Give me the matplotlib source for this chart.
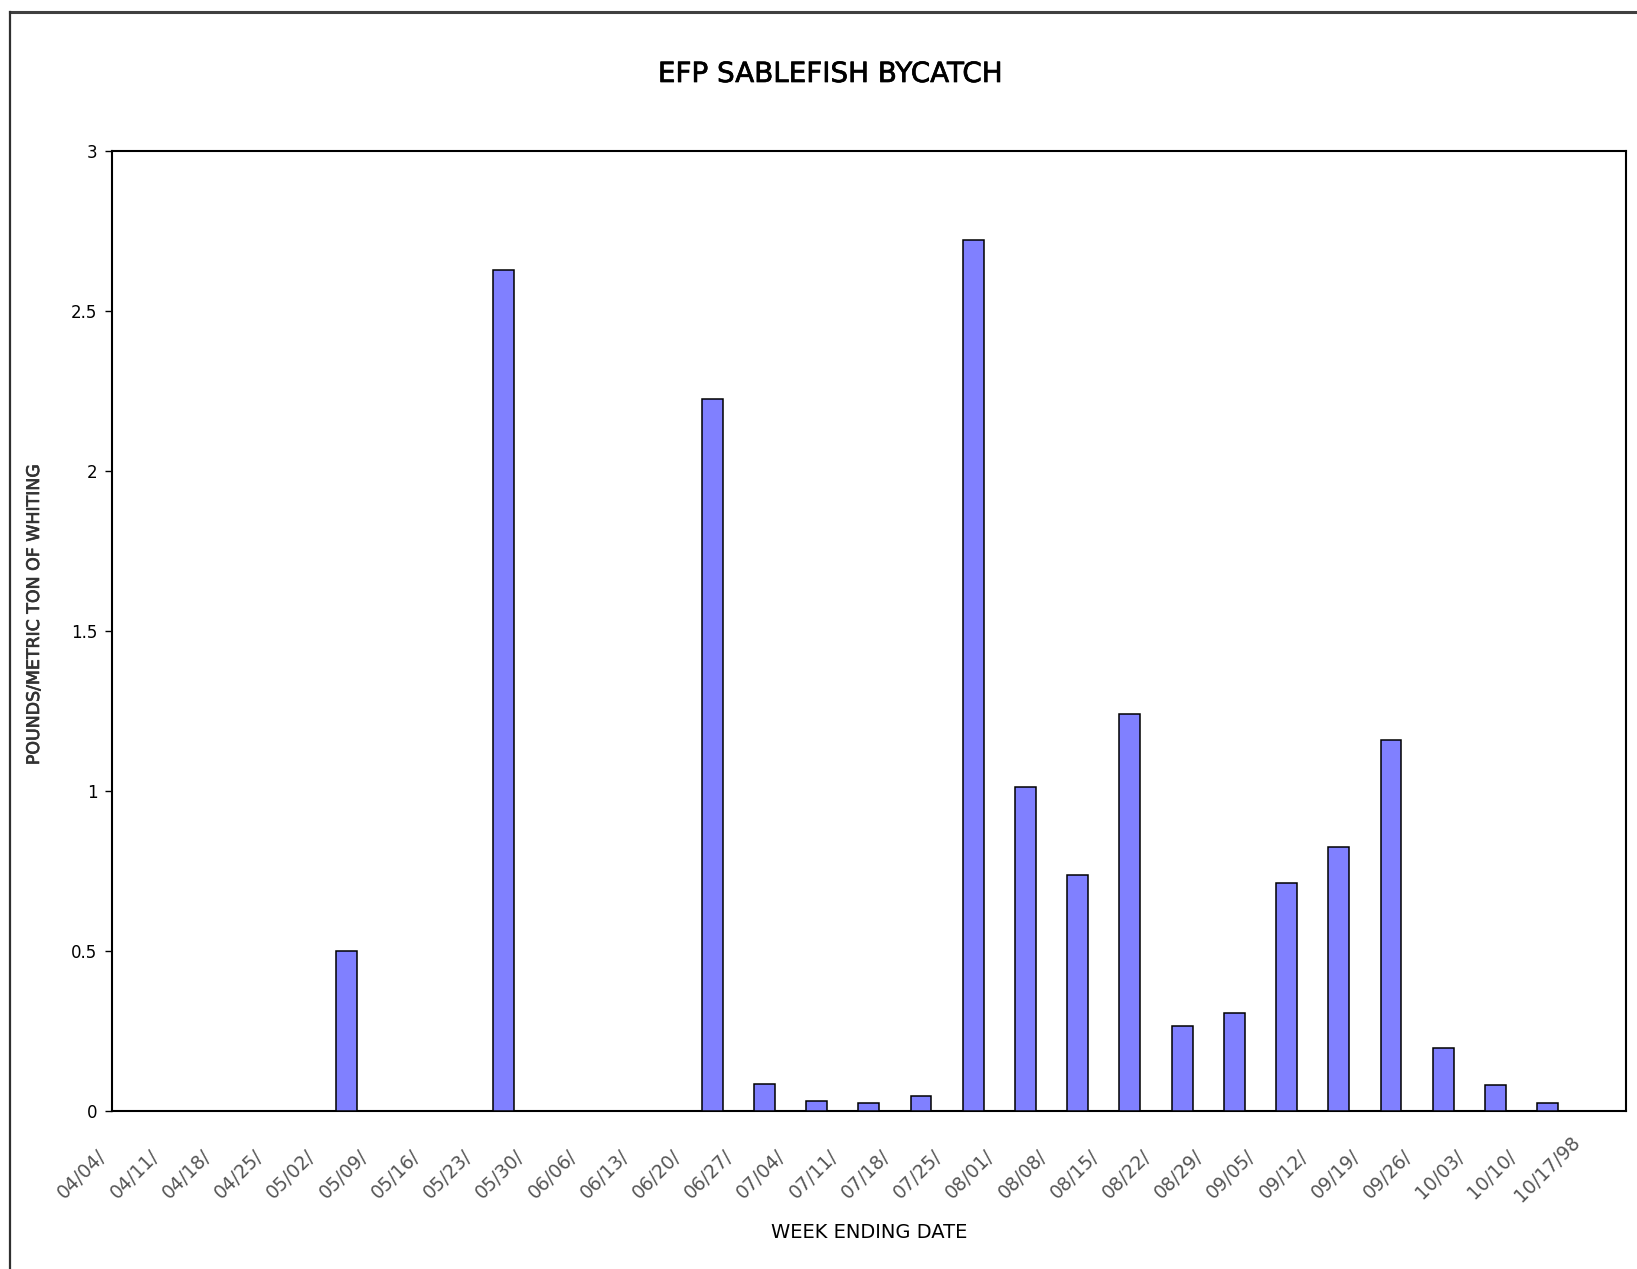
import matplotlib
matplotlib.use("Agg")
import matplotlib.pyplot as plt
from matplotlib.lines import Line2D
from matplotlib.transforms import ScaledTranslation
import matplotlib.patheffects as pe

# ---- data ----
week_labels = ["04/04/", "04/11/", "04/18/", "04/25/", "05/02/", "05/09/", "05/16/",
               "05/23/", "05/30/", "06/06/", "06/13/", "06/20/", "06/27/", "07/04/",
               "07/11/", "07/18/", "07/25/", "08/01/", "08/08/", "08/15/", "08/22/",
               "08/29/", "09/05/", "09/12/", "09/19/", "09/26/", "10/03/", "10/10/",
               "10/17/98"]
bycatch = [0, 0, 0, 0, 0.50, 0, 0,
           2.628, 0, 0, 0, 2.226, 0.083, 0.032,
           0.024, 0.048, 2.723, 1.012, 0.738, 1.242, 0.266,
           0.307, 0.712, 0.826, 1.159, 0.197, 0.082, 0.025,
           0]
yticks = [0, 0.5, 1, 1.5, 2, 2.5, 3]
ytick_labels = ["0", "0.5", "1", "1.5", "2", "2.5", "3"]

W, H = 1637, 1269
fig = plt.figure(figsize=(W / 100, H / 100), dpi=100)
plt.rcParams['font.family'] = ['DejaVu Sans']

# outer chart-area frame (top and left edges visible)
fig.add_artist(Line2D([10 / W, 1.0], [1 - 12 / H, 1 - 12 / H], color="#404040", lw=2.2))
fig.add_artist(Line2D([10 / W, 10 / W], [0, 1 - 12 / H], color="#303030", lw=1.6))

ax = fig.add_axes([111.5 / W, 1 - 1111 / H, (1626 - 111.5) / W, (1111 - 151) / H])
x = list(range(len(week_labels)))
ax.bar(x, bycatch, width=0.4, color="#8080FF", edgecolor="black", linewidth=1.1, zorder=3)

ax.set_xlim(-0.5, len(week_labels) - 0.5)
ax.set_ylim(0, 3)
ax.set_yticks(yticks)
ax.set_yticklabels(ytick_labels, fontsize=12)
ax.tick_params(axis='y', direction='out', length=5, width=1, pad=5, colors='black')
for s in ax.spines.values():
    s.set_linewidth(1.5)
    s.set_color('black')

ax.set_xticks(x)
ax.set_xticklabels(week_labels, rotation=45, ha='right', va='center',
                   rotation_mode='anchor', fontsize=13.5, color='#555555')
ax.tick_params(axis='x', length=0, pad=0)
for i, lab in enumerate(ax.get_xticklabels()):
    if i == len(week_labels) - 1:
        dx, dy = -23, -28
    else:
        dx, dy = -34, -42
    lab.set_transform(lab.get_transform() + ScaledTranslation(dx / 100, dy / 100, fig.dpi_scale_trans))

fig.text(830.5 / W, 1 - 74 / H, "EFP SABLEFISH BYCATCH", ha='center', va='center', fontsize=20,
         path_effects=[pe.withStroke(linewidth=0.5, foreground='black')])
fig.text(869 / W, 1 - 1233 / H, "WEEK ENDING DATE", ha='center', va='center', fontsize=14)
fig.text(34 / W, 1 - 614 / H, "POUNDS/METRIC TON OF WHITING", ha='center', va='center',
         rotation=90, fontsize=12.5, color='#333333',
         path_effects=[pe.withStroke(linewidth=0.5, foreground='#333333')])

fig.savefig("out.png", dpi=100, facecolor='white')
